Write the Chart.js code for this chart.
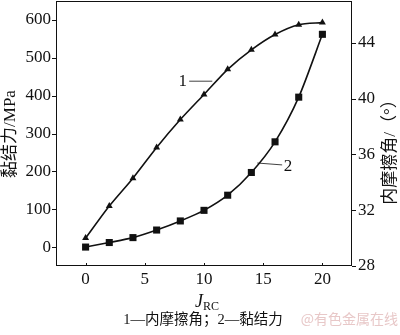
<!DOCTYPE html>
<html lang="zh">
<head>
<meta charset="UTF-8">
<title>黏结力与内摩擦角 - JRC</title>
<script src="https://cdn.jsdelivr.net/npm/chart.js"></script>
<style>
  body { margin: 0; background: #fff; overflow: hidden; }
  /* canvas shifted up 4px: Chart.js keeps a small top gap above the plot */
  #wrap { position: relative; top: -4px; width: 400px; height: 339px; }
</style>
</head>
<body>
<div id="wrap"><canvas id="jrcChart"></canvas></div>
<script>
// data
const jrcValues = [0, 2, 4, 6, 8, 10, 12, 14, 16, 18, 20];
const frictionAngle = [30.0, 32.3, 34.3, 36.5, 38.5, 40.3, 42.1, 43.5, 44.6, 45.3, 45.45];
const cohesion = [0, 12, 25, 45, 69, 97, 137, 197, 278, 396, 562];
const xTicks = [0, 5, 10, 15, 20];
const leftTicks = [0, 100, 200, 300, 400, 500, 600];
const rightTicks = [28, 32, 36, 40, 44];

const serif = '"Liberation Serif", "Times New Roman", serif';
const cjk = '"Liberation Serif", "Noto Sans CJK SC", serif';

// pin axis sizes and drop the label overhang padding
function fixSize(w, h) {
    return function (scale) {
        if (w !== null) scale.width = w;
        if (h !== null) scale.height = h;
        scale.paddingTop = 0;
        scale.paddingBottom = 0;
        scale.paddingLeft = 0;
        scale.paddingRight = 0;
    };
}

// frame, tick marks, titles, leader lines, caption
const decorations = {
    id: 'decorations',
    afterDraw(chart) {
        const ctx = chart.ctx;
        const a = chart.chartArea;
        const sx = chart.scales.x, sy = chart.scales.y, sy1 = chart.scales.y1;
        const dy = 4; // canvas offset
        ctx.save();
        ctx.strokeStyle = '#111';
        ctx.lineWidth = 1;
        ctx.strokeRect(a.left + 0.5, a.top + 0.5, a.right - a.left - 1, a.bottom - a.top - 1);

        ctx.beginPath();
        leftTicks.forEach(v => {
            const y = Math.round(sy.getPixelForValue(v)) + 0.5;
            ctx.moveTo(a.left - 4, y); ctx.lineTo(a.left, y);
        });
        rightTicks.forEach(v => {
            const y = Math.round(sy1.getPixelForValue(v)) + 0.5;
            ctx.moveTo(a.right, y); ctx.lineTo(a.right + 4, y);
        });
        xTicks.forEach(v => {
            const x = Math.round(sx.getPixelForValue(v)) + 0.5;
            ctx.moveTo(x, a.bottom); ctx.lineTo(x, a.bottom - 3);
        });
        ctx.stroke();

        // leader lines for curve labels
        ctx.lineWidth = 0.8;
        ctx.beginPath();
        ctx.moveTo(sx.getPixelForValue(8.75), sy1.getPixelForValue(41.25));
        ctx.lineTo(sx.getPixelForValue(10.7), sy1.getPixelForValue(41.25));
        ctx.moveTo(sx.getPixelForValue(14.5), sy.getPixelForValue(222));
        ctx.lineTo(sx.getPixelForValue(16.6), sy.getPixelForValue(217));
        ctx.stroke();

        ctx.fillStyle = '#111';
        ctx.font = '17px ' + serif;
        ctx.textAlign = 'center';
        ctx.textBaseline = 'middle';
        ctx.fillText('1', sx.getPixelForValue(8.2), sy1.getPixelForValue(41.25));
        ctx.fillText('2', sx.getPixelForValue(17.1), sy.getPixelForValue(212));

        // axis titles, both read bottom to top
        ctx.font = '17px ' + cjk;
        ctx.save();
        ctx.translate(11, 134 + dy);
        ctx.rotate(-Math.PI / 2);
        ctx.fillText('黏结力/MPa', 0, 0);
        ctx.restore();
        ctx.save();
        ctx.translate(391, 148 + dy);
        ctx.rotate(-Math.PI / 2);
        ctx.fillText('内摩擦角/（°）', 0, 0);
        ctx.restore();

        // x title J_RC
        ctx.textAlign = 'left';
        ctx.textBaseline = 'alphabetic';
        ctx.font = 'italic 18px ' + serif;
        ctx.fillText('J', 195, 307 + dy);
        ctx.font = '12px ' + serif;
        ctx.fillText('RC', 203, 310 + dy);

        // caption and watermark
        ctx.font = '14.5px ' + cjk;
        ctx.textAlign = 'center';
        ctx.fillText('1—内摩擦角；2—黏结力', 203, 324 + dy);
        ctx.fillStyle = 'rgb(232, 200, 200)';
        ctx.font = '14px "Noto Sans CJK SC", sans-serif';
        ctx.textAlign = 'right';
        ctx.fillText('@有色金属在线', 398, 324 + dy);
        ctx.restore();
    }
};

const ctx = document.getElementById('jrcChart').getContext('2d');
new Chart(ctx, {
    type: 'line',
    data: {
        datasets: [{
            label: '内摩擦角',
            data: jrcValues.map((x, i) => ({ x: x, y: frictionAngle[i] })),
            yAxisID: 'y1',
            borderColor: '#111',
            backgroundColor: '#111',
            borderWidth: 1.6,
            pointStyle: 'triangle',
            pointRadius: 4,
            pointBorderWidth: 0,
            tension: 0.25
        }, {
            label: '黏结力',
            data: jrcValues.map((x, i) => ({ x: x, y: cohesion[i] })),
            yAxisID: 'y',
            borderColor: '#111',
            backgroundColor: '#111',
            borderWidth: 1.6,
            pointStyle: 'rect',
            pointRadius: 5,
            pointBorderWidth: 0,
            tension: 0.25
        }]
    },
    options: {
        responsive: true,
        maintainAspectRatio: false,
        animation: false,
        layout: { padding: { top: 1, left: 0, right: 0, bottom: 0 } },
        plugins: {
            legend: { display: false },
            tooltip: { enabled: false }
        },
        scales: {
            x: {
                type: 'linear',
                min: -2.5,
                max: 22.5,
                afterBuildTicks: s => { s.ticks = xTicks.map(v => ({ value: v })); },
                afterFit: fixSize(null, 69),
                grid: { display: false, drawTicks: false },
                border: { display: false },
                ticks: { color: '#111', padding: 3, font: { family: serif, size: 17 } }
            },
            y: {
                position: 'left',
                min: -50,
                max: 650,
                afterBuildTicks: s => { s.ticks = leftTicks.map(v => ({ value: v })); },
                afterFit: fixSize(56, null),
                grid: { display: false, drawTicks: false },
                border: { display: false },
                ticks: { color: '#111', padding: 5, font: { family: serif, size: 17 } }
            },
            y1: {
                position: 'right',
                min: 28,
                max: 47,
                afterBuildTicks: s => { s.ticks = rightTicks.map(v => ({ value: v })); },
                afterFit: fixSize(48, null),
                grid: { display: false, drawTicks: false },
                border: { display: false },
                ticks: { color: '#111', padding: 6, font: { family: serif, size: 17 } }
            }
        }
    },
    plugins: [decorations]
});
</script>
</body>
</html>
